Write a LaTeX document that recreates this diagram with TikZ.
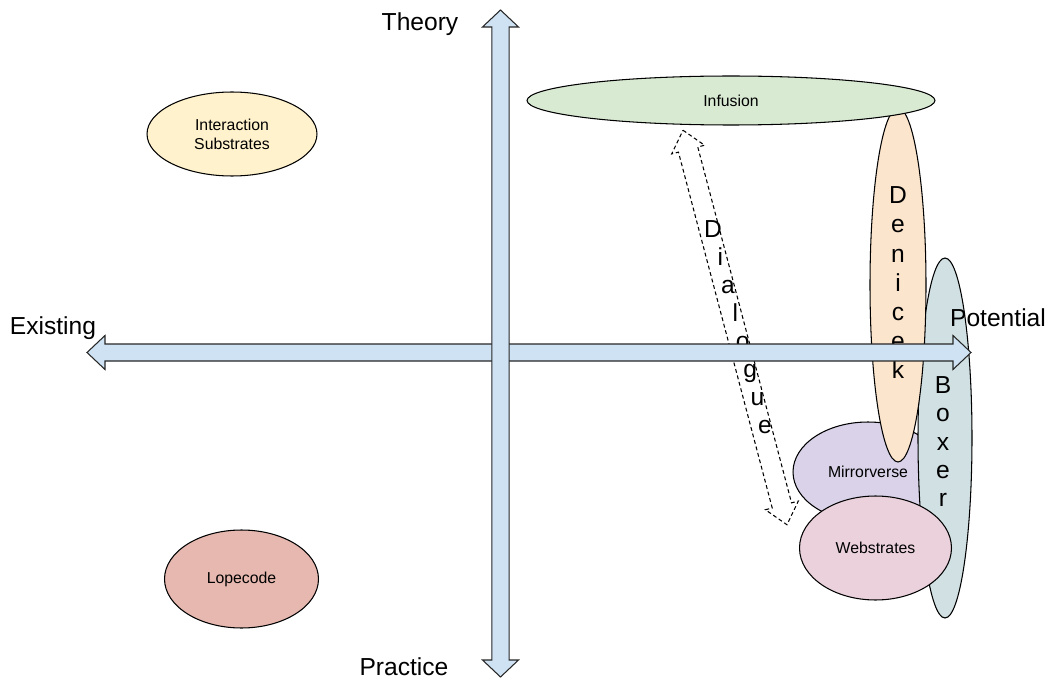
\documentclass[tikz,border=0pt]{standalone}
\usepackage{fontspec}
\setmainfont{Liberation Sans}
\usetikzlibrary{calc,shapes.geometric}
\definecolor{axisblue}{HTML}{CFE2F3}
\definecolor{isubfill}{HTML}{FFF2CC}
\definecolor{lopefill}{HTML}{E6B8AF}
\definecolor{infufill}{HTML}{D9EAD3}
\definecolor{denifill}{HTML}{FCE5CD}
\definecolor{boxefill}{HTML}{D0E0E3}
\definecolor{mirrfill}{HTML}{D9D2E9}
\definecolor{websfill}{HTML}{EAD1DC}
\tikzset{
	blob/.style={ellipse, draw=black, line width=0.6pt, inner sep=0pt, align=center, font=\fontsize{9}{10.8}\selectfont},
	bigtxt/.style={inner sep=0pt, font=\fontsize{14}{16}\selectfont},
	axis/.style={draw=black!85, line width=0.6pt, fill=axisblue},
}

\begin{document}
\begin{tikzpicture}[x=0.02cm, y=-0.02cm]
		%%%%% START %%%%%
		\useasboundingbox (0, 0) rectangle (1049, 679);
		
		\coordinate (exTip) at (87, 352.5);
		\coordinate (poTip) at (971, 352.5);
		\coordinate (thTip) at (500.5, 10);
		\coordinate (prTip) at (500.5, 677);
		
		% dialogue
		\begin{scope}[shift={(735, 327.5)}, rotate=-75.24]
			\coordinate (dlgTop) at (-204, 0);
			\coordinate (dlgBot) at (204, 0);
			\draw[line width=0.6pt, dash pattern=on 2.2pt off 1.6pt] (dlgTop) -- (-184, -17) -- (-184, -10) -- (184, -10) -- (184, -17) -- (dlgBot) -- (184, 17) -- (184, 10) -- (-184, 10) -- (-184, 17) -- cycle;
		\end{scope}
		\foreach \l [count=\i from 0] in {D,i,a,l,o,g,u,e}
			\node[bigtxt, anchor=base] (dlg\i) at ({713+7.43*\i}, {237+28.1*\i}) {\l};
		
		\node[blob, fill=isubfill, minimum width=3.4cm, minimum height=1.68cm] (isub) at (232, 134) {Interaction\\Substrates};
		\node[blob, fill=lopefill, minimum width=3.08cm, minimum height=1.96cm] (lope) at (241.5, 579) {Lopecode};
		
		\node[blob, fill=mirrfill, minimum width=3cm, minimum height=2cm] (mirr) at (868, 472) {Mirrorverse};
		
		\node[blob, fill=boxefill, minimum width=1.08cm, minimum height=7.2cm] (boxe) at (945, 438) {};
		\foreach \l [count=\i from 0] in {B,o,x,e,r}
			\node[bigtxt, anchor=base] (bx\i) at (943, {393.7+28.2*\i}) {\l};
		
		\node[blob, fill=denifill, minimum width=1.12cm, minimum height=7.08cm] (deni) at (898, 285) {};
		\foreach \l [count=\i from 0] in {D,e,n,i,c,e,k}
			\node[bigtxt, anchor=base] (dn\i) at (898, {203.7+29.2*\i}) {\l};
		
		\node[blob, fill=websfill, minimum width=3.04cm, minimum height=2.08cm] (webs) at (875.5, 548) {Webstrates};
		\node[blob, fill=infufill, minimum width=8.16cm, minimum height=0.98cm] (infu) at (731, 100.5) {Infusion};
		
		% axes
		\draw[axis] (exTip) -- ++(18, -17) -- ++(0, 8.5) -- ($(poTip)+(-18, -8.5)$) -- ++(0, -8.5) -- (poTip) -- ++(-18, 17) -- ++(0, -8.5) -- ($(exTip)+(18, 8.5)$) -- ++(0, 8.5) -- cycle;
		\draw[axis] (thTip) -- ++(18, 17) -- ++(-9.3, 0) -- ($(prTip)+(8.7, -17)$) -- ++(9.3, 0) -- (prTip) -- ++(-18, -17) -- ++(9.3, 0) -- ($(thTip)+(-8.7, 17)$) -- ++(-9.3, 0) -- cycle;
		
		\node[bigtxt] (theo) at (420, 24) {Theory};
		\node[bigtxt] (prac) at (404, 667) {Practice};
		\node[bigtxt] (exis) at (53, 328) {Existing};
		\node[bigtxt] (pote) at (998, 318) {Potential};
		
		%%%%% END %%%%%
\end{tikzpicture}
\end{document}
